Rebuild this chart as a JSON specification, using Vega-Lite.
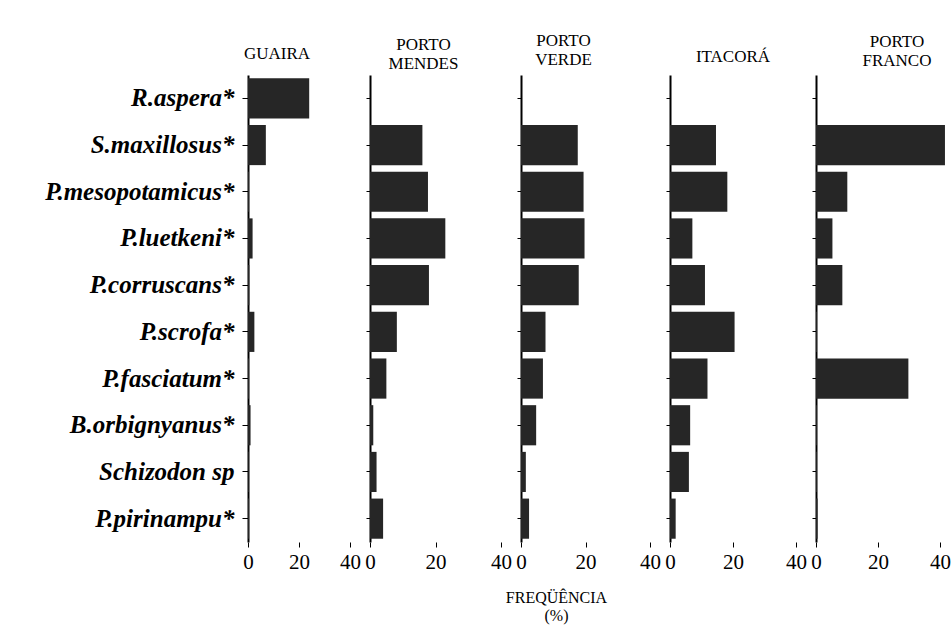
{
  "$schema": "https://vega.github.io/schema/vega-lite/v6.json",
  "background": "white",
  "padding": {"left": 44, "top": 32, "right": 2, "bottom": 2},
  "bounds": "flush",
  "spacing": 20,
  "datasets": {
    "freq": [
      {"site": "GUAIRA", "species": "R.aspera*", "freq": 24},
      {"site": "GUAIRA", "species": "S.maxillosus*", "freq": 7},
      {"site": "GUAIRA", "species": "P.mesopotamicus*", "freq": 0.4},
      {"site": "GUAIRA", "species": "P.luetkeni*", "freq": 1.8},
      {"site": "GUAIRA", "species": "P.corruscans*", "freq": 0.5},
      {"site": "GUAIRA", "species": "P.scrofa*", "freq": 2.5},
      {"site": "GUAIRA", "species": "P.fasciatum*", "freq": 0.4},
      {"site": "GUAIRA", "species": "B.orbignyanus*", "freq": 1},
      {"site": "GUAIRA", "species": "Schizodon sp", "freq": 0.3},
      {"site": "GUAIRA", "species": "P.pirinampu*", "freq": 0.4},
      {"site": "PORTO MENDES", "species": "R.aspera*", "freq": 0},
      {"site": "PORTO MENDES", "species": "S.maxillosus*", "freq": 16},
      {"site": "PORTO MENDES", "species": "P.mesopotamicus*", "freq": 17.7},
      {"site": "PORTO MENDES", "species": "P.luetkeni*", "freq": 23},
      {"site": "PORTO MENDES", "species": "P.corruscans*", "freq": 18},
      {"site": "PORTO MENDES", "species": "P.scrofa*", "freq": 8.2},
      {"site": "PORTO MENDES", "species": "P.fasciatum*", "freq": 5},
      {"site": "PORTO MENDES", "species": "B.orbignyanus*", "freq": 1},
      {"site": "PORTO MENDES", "species": "Schizodon sp", "freq": 2},
      {"site": "PORTO MENDES", "species": "P.pirinampu*", "freq": 4},
      {"site": "PORTO VERDE", "species": "R.aspera*", "freq": 0},
      {"site": "PORTO VERDE", "species": "S.maxillosus*", "freq": 17.6},
      {"site": "PORTO VERDE", "species": "P.mesopotamicus*", "freq": 19.4},
      {"site": "PORTO VERDE", "species": "P.luetkeni*", "freq": 19.7},
      {"site": "PORTO VERDE", "species": "P.corruscans*", "freq": 17.9},
      {"site": "PORTO VERDE", "species": "P.scrofa*", "freq": 7.6},
      {"site": "PORTO VERDE", "species": "P.fasciatum*", "freq": 6.8},
      {"site": "PORTO VERDE", "species": "B.orbignyanus*", "freq": 4.7},
      {"site": "PORTO VERDE", "species": "Schizodon sp", "freq": 1.5},
      {"site": "PORTO VERDE", "species": "P.pirinampu*", "freq": 2.5},
      {"site": "ITACORÁ", "species": "R.aspera*", "freq": 0},
      {"site": "ITACORÁ", "species": "S.maxillosus*", "freq": 14.6},
      {"site": "ITACORÁ", "species": "P.mesopotamicus*", "freq": 18.2},
      {"site": "ITACORÁ", "species": "P.luetkeni*", "freq": 7.1},
      {"site": "ITACORÁ", "species": "P.corruscans*", "freq": 11.1},
      {"site": "ITACORÁ", "species": "P.scrofa*", "freq": 20.5},
      {"site": "ITACORÁ", "species": "P.fasciatum*", "freq": 11.9},
      {"site": "ITACORÁ", "species": "B.orbignyanus*", "freq": 6.4},
      {"site": "ITACORÁ", "species": "Schizodon sp", "freq": 6},
      {"site": "ITACORÁ", "species": "P.pirinampu*", "freq": 1.8},
      {"site": "PORTO FRANCO", "species": "R.aspera*", "freq": 0},
      {"site": "PORTO FRANCO", "species": "S.maxillosus*", "freq": 41.6},
      {"site": "PORTO FRANCO", "species": "P.mesopotamicus*", "freq": 10.1},
      {"site": "PORTO FRANCO", "species": "P.luetkeni*", "freq": 5.3},
      {"site": "PORTO FRANCO", "species": "P.corruscans*", "freq": 8.5},
      {"site": "PORTO FRANCO", "species": "P.scrofa*", "freq": 0.3},
      {"site": "PORTO FRANCO", "species": "P.fasciatum*", "freq": 29.8},
      {"site": "PORTO FRANCO", "species": "B.orbignyanus*", "freq": 0.3},
      {"site": "PORTO FRANCO", "species": "Schizodon sp", "freq": 0.3},
      {"site": "PORTO FRANCO", "species": "P.pirinampu*", "freq": 0.5}
    ]
  },
  "data": {"name": "freq"},
  "config": {
    "font": "Liberation Serif",
    "view": {"stroke": null},
    "axis": {"grid": false, "labelColor": "black", "domainColor": "black", "tickColor": "black", "labelFont": "Liberation Serif", "titleFont": "Liberation Serif", "titleColor": "black"},
    "title": {"font": "Liberation Serif", "fontSize": 17, "fontWeight": "normal", "color": "black", "baseline": "bottom", "lineHeight": 19, "anchor": "middle"},
    "bar": {"color": "#262626"}
  },
  "hconcat": [
    {
      "width": 102, "height": 467,
      "title": {"text": "GUAIRA", "offset": 12, "dx": -22},
      "transform": [{"filter": "datum.site === 'GUAIRA'"}],
      "mark": "bar",
      "encoding": {
        "y": {"field": "species", "type": "nominal", "sort": ["R.aspera*", "S.maxillosus*", "P.mesopotamicus*", "P.luetkeni*", "P.corruscans*", "P.scrofa*", "P.fasciatum*", "B.orbignyanus*", "Schizodon sp", "P.pirinampu*"], "scale": {"paddingInner": 0.14},
          "axis": {"title": null, "domainWidth": 2, "tickSize": 6, "tickWidth": 1, "labelPadding": 8, "labelFontSize": 25, "labelFontStyle": "italic", "labelFontWeight": "bold", "labelLimit": 400}},
        "x": {"field": "freq", "type": "quantitative", "scale": {"domain": [0, 40], "nice": false},
          "axis": {"values": [0, 20, 40], "title": null, "domain": false, "tickSize": 5, "labelPadding": 4, "labelFontSize": 21, "labelFlush": false, "labelOverlap": false, "labelBound": false}}
      }
    },
    {
      "width": 131, "height": 467,
      "title": {"text": ["PORTO", "MENDES"], "offset": 2, "dx": -12},
      "transform": [{"filter": "datum.site === 'PORTO MENDES'"}],
      "mark": "bar",
      "encoding": {
        "y": {"field": "species", "type": "nominal", "sort": ["R.aspera*", "S.maxillosus*", "P.mesopotamicus*", "P.luetkeni*", "P.corruscans*", "P.scrofa*", "P.fasciatum*", "B.orbignyanus*", "Schizodon sp", "P.pirinampu*"], "scale": {"paddingInner": 0.14},
          "axis": {"title": null, "labels": false, "domainWidth": 2, "tickSize": 4, "tickWidth": 1}},
        "x": {"field": "freq", "type": "quantitative", "scale": {"domain": [0, 40], "nice": false},
          "axis": {"values": [0, 20, 40], "title": null, "domain": false, "tickSize": 5, "labelPadding": 4, "labelFontSize": 21, "labelFlush": false, "labelOverlap": false, "labelBound": false}}
      }
    },
    {
      "width": 129, "height": 467,
      "title": {"text": ["PORTO", "VERDE"], "offset": 6, "dx": -22},
      "transform": [{"filter": "datum.site === 'PORTO VERDE'"}],
      "mark": "bar",
      "encoding": {
        "y": {"field": "species", "type": "nominal", "sort": ["R.aspera*", "S.maxillosus*", "P.mesopotamicus*", "P.luetkeni*", "P.corruscans*", "P.scrofa*", "P.fasciatum*", "B.orbignyanus*", "Schizodon sp", "P.pirinampu*"], "scale": {"paddingInner": 0.14},
          "axis": {"title": null, "labels": false, "domainWidth": 2, "tickSize": 4, "tickWidth": 1}},
        "x": {"field": "freq", "type": "quantitative", "scale": {"domain": [0, 40], "nice": false},
          "axis": {"values": [0, 20, 40], "title": ["FREQÜÊNCIA", "(%)"], "titleX": 35, "titleY": 60, "titleAlign": "center", "titleBaseline": "alphabetic", "titleFontSize": 16, "titleFontWeight": "normal", "titleLineHeight": 18, "domain": false, "tickSize": 5, "labelPadding": 4, "labelFontSize": 21, "labelFlush": false, "labelOverlap": false, "labelBound": false}}
      }
    },
    {
      "width": 126, "height": 467,
      "title": {"text": "ITACORÁ", "offset": 9, "dx": 0},
      "transform": [{"filter": "datum.site === 'ITACORÁ'"}],
      "mark": "bar",
      "encoding": {
        "y": {"field": "species", "type": "nominal", "sort": ["R.aspera*", "S.maxillosus*", "P.mesopotamicus*", "P.luetkeni*", "P.corruscans*", "P.scrofa*", "P.fasciatum*", "B.orbignyanus*", "Schizodon sp", "P.pirinampu*"], "scale": {"paddingInner": 0.14},
          "axis": {"title": null, "labels": false, "domainWidth": 2, "tickSize": 4, "tickWidth": 1}},
        "x": {"field": "freq", "type": "quantitative", "scale": {"domain": [0, 40], "nice": false},
          "axis": {"values": [0, 20, 40], "title": null, "domain": false, "tickSize": 5, "labelPadding": 4, "labelFontSize": 21, "labelFlush": false, "labelOverlap": false, "labelBound": false}}
      }
    },
    {
      "width": 124, "height": 467,
      "title": {"text": ["PORTO", "FRANCO"], "offset": 5, "dx": 19},
      "transform": [{"filter": "datum.site === 'PORTO FRANCO'"}],
      "mark": "bar",
      "encoding": {
        "y": {"field": "species", "type": "nominal", "sort": ["R.aspera*", "S.maxillosus*", "P.mesopotamicus*", "P.luetkeni*", "P.corruscans*", "P.scrofa*", "P.fasciatum*", "B.orbignyanus*", "Schizodon sp", "P.pirinampu*"], "scale": {"paddingInner": 0.14},
          "axis": {"title": null, "labels": false, "domainWidth": 2, "tickSize": 4, "tickWidth": 1}},
        "x": {"field": "freq", "type": "quantitative", "scale": {"domain": [0, 40], "nice": false},
          "axis": {"values": [0, 20, 40], "title": null, "domain": false, "tickSize": 5, "labelPadding": 4, "labelFontSize": 21, "labelFlush": false, "labelOverlap": false, "labelBound": false}}
      }
    }
  ]
}
